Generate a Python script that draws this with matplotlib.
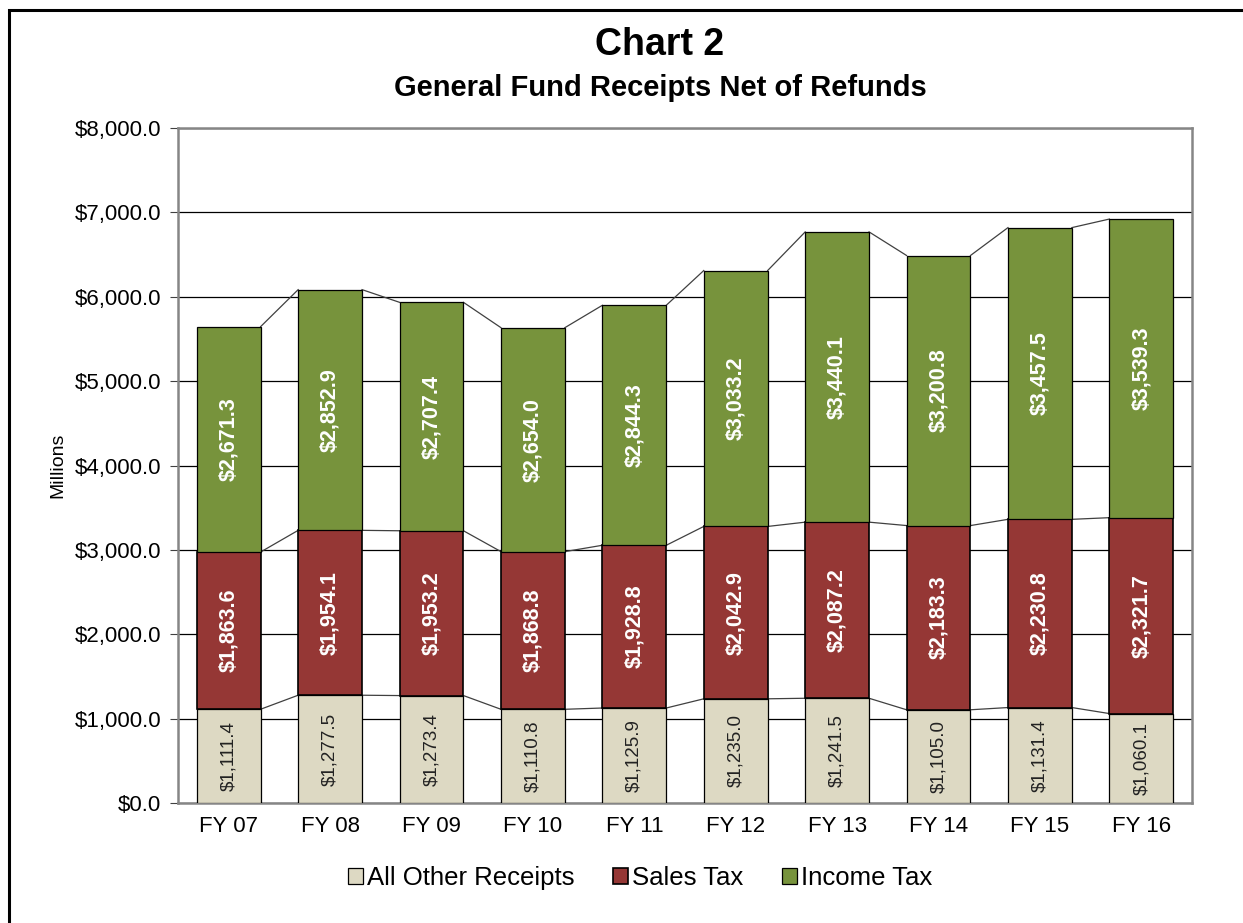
import matplotlib
matplotlib.use('Agg')
import matplotlib.pyplot as plt
import numpy as np
from matplotlib.patches import Rectangle

years = ['FY 07', 'FY 08', 'FY 09', 'FY 10', 'FY 11', 'FY 12', 'FY 13', 'FY 14', 'FY 15', 'FY 16']
other = [1111.4, 1277.5, 1273.4, 1110.8, 1125.9, 1235.0, 1241.5, 1105.0, 1131.4, 1060.1]
sales = [1863.6, 1954.1, 1953.2, 1868.8, 1928.8, 2042.9, 2087.2, 2183.3, 2230.8, 2321.7]
income = [2671.3, 2852.9, 2707.4, 2654.0, 2844.3, 3033.2, 3440.1, 3200.8, 3457.5, 3539.3]
yticks = [0, 1000, 2000, 3000, 4000, 5000, 6000, 7000, 8000]


def main():
    plt.rcParams['font.family'] = ['Liberation Sans', 'DejaVu Sans']

    fig = plt.figure(figsize=(12.43, 9.23), dpi=100)
    ax = fig.add_axes([0.1432, 0.130, 0.8158, 0.7313])

    x = np.arange(len(years))
    w = 0.63
    other_a = np.array(other)
    sales_a = np.array(sales)
    income_a = np.array(income)

    ax.set_axisbelow(True)
    ax.yaxis.grid(True, color='black', lw=0.9)

    ax.bar(x, other_a, w, color='#DDD9C3', edgecolor='black', lw=0.9, label='All Other Receipts', zorder=3)
    ax.bar(x, sales_a, w, bottom=other_a, color='#953735', edgecolor='black', lw=1.2, label='Sales Tax', zorder=3)
    ax.bar(x, income_a, w, bottom=other_a + sales_a, color='#77933C', edgecolor='black', lw=0.9, label='Income Tax', zorder=3)

    # series lines between bars
    levels = [other_a, other_a + sales_a, other_a + sales_a + income_a]
    for lev in levels:
        for i in range(len(x) - 1):
            ax.plot([x[i] + w / 2, x[i + 1] - w / 2], [lev[i], lev[i + 1]],
                    color='#404040', lw=0.9, zorder=2)

    for i in range(len(x)):
        ax.text(x[i], other_a[i] / 2, '${:,.1f}'.format(other_a[i]), rotation=90,
                ha='center', va='center', fontsize=13.5, color='#222222', zorder=4)
        ax.text(x[i], other_a[i] + sales_a[i] / 2, '${:,.1f}'.format(sales_a[i]), rotation=90,
                ha='center', va='center', fontsize=15.5, fontweight='bold', color='white', zorder=4)
        ax.text(x[i], other_a[i] + sales_a[i] + income_a[i] / 2, '${:,.1f}'.format(income_a[i]),
                rotation=90, ha='center', va='center', fontsize=15.5, fontweight='bold',
                color='white', zorder=4)

    ax.set_xlim(-0.5, len(x) - 0.5)
    ax.set_ylim(0, 8000)
    ax.set_yticks(yticks)
    ax.set_yticklabels(['${:,.1f}'.format(v) for v in yticks], fontsize=16)
    ax.set_xticks(x)
    ax.set_xticklabels(years, fontsize=16)
    ax.tick_params(axis='x', length=0, pad=9)
    ax.tick_params(axis='y', length=6, color='#404040', pad=6)
    for s in ax.spines.values():
        s.set_color('#868686')
        s.set_linewidth(1.8)
    ax.set_ylabel('Millions', fontsize=14, labelpad=6)

    fig.text(0.531, 0.951, 'Chart 2', ha='center', va='center', fontsize=27, fontweight='bold')
    fig.text(0.531, 0.905, 'General Fund Receipts Net of Refunds', ha='center', va='center',
             fontsize=21, fontweight='bold')

    fig.legend(loc='center', bbox_to_anchor=(0.515, 0.049), ncol=3, frameon=False,
               fontsize=18.5, handlelength=0.6, handleheight=0.6, handletextpad=0.15,
               columnspacing=1.5)

    fig.add_artist(Rectangle((0.0072, -0.2), 1.2, 1.1892, transform=fig.transFigure,
                             fill=False, edgecolor='black', lw=2.2, clip_on=False))

    fig.savefig('out.png', dpi=100)


if __name__ == '__main__':
    main()
